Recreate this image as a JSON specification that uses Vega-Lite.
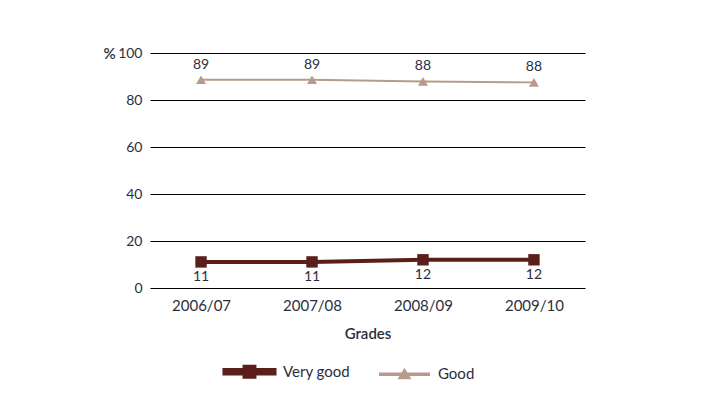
{
  "$schema": "https://vega.github.io/schema/vega-lite/v6.json",
  "width": 435,
  "height": 235,
  "autosize": {"type": "none"},
  "padding": {"left": 150, "top": 53, "right": 116, "bottom": 113},
  "background": "white",
  "config": {
    "font": "Lato",
    "view": {"stroke": null},
    "text": {"font": "Lato"}
  },
  "data": {
    "values": [
      {"year": "2006/07", "series": "Very good", "value": 11.1},
      {"year": "2007/08", "series": "Very good", "value": 11.1},
      {"year": "2008/09", "series": "Very good", "value": 12.0},
      {"year": "2009/10", "series": "Very good", "value": 12.0},
      {"year": "2006/07", "series": "Good", "value": 88.6},
      {"year": "2007/08", "series": "Good", "value": 88.6},
      {"year": "2008/09", "series": "Good", "value": 87.9},
      {"year": "2009/10", "series": "Good", "value": 87.5}
    ]
  },
  "encoding": {
    "x": {
      "field": "year",
      "type": "ordinal",
      "sort": null,
      "scale": {"type": "point", "padding": 0.46},
      "axis": {
        "domain": false,
        "ticks": false,
        "grid": false,
        "labelAngle": 0,
        "labelPadding": 10,
        "labelFontSize": 15,
        "labelColor": "#2b2f3d",
        "title": "Grades",
        "titleFontSize": 15,
        "titleFontWeight": 600,
        "titleColor": "#2b2f3d",
        "titlePadding": 13
      }
    },
    "y": {
      "field": "value",
      "type": "quantitative",
      "scale": {"domain": [0, 100]},
      "axis": {
        "values": [0, 20, 40, 60, 80, 100],
        "domain": false,
        "ticks": false,
        "grid": true,
        "gridColor": "#000000",
        "gridWidth": 1,
        "gridOpacity": 1,
        "labelPadding": 8,
        "labelFontSize": 14,
        "labelColor": "#2b2f3d",
        "title": "%",
        "titleAngle": 0,
        "titleX": -47,
        "titleY": 0,
        "titleAlign": "left",
        "titleBaseline": "middle",
        "titleFontSize": 15,
        "titleFontWeight": 600,
        "titleColor": "#2b2f3d"
      }
    }
  },
  "layer": [
    {
      "transform": [{"filter": "false"}],
      "mark": {"type": "point", "filled": true, "opacity": 1},
      "encoding": {
        "color": {
          "field": "series",
          "type": "nominal",
          "scale": {"domain": ["Very good", "Good"], "range": ["#5a1f1b", "#b89a8c"]},
          "legend": {
            "orient": "none",
            "legendX": 92,
            "legendY": 311,
            "direction": "horizontal",
            "title": null,
            "padding": 0,
            "labelFont": "Lato",
            "labelFontSize": 15,
            "labelColor": "#2b2f3d",
            "symbolSize": 121,
            "symbolStrokeWidth": 0,
            "symbolOpacity": 1,
            "labelOffset": 26,
            "columnPadding": 25
          }
        },
        "shape": {
          "field": "series",
          "type": "nominal",
          "scale": {
            "domain": ["Very good", "Good"],
            "range": [
              "M-4.55,-0.3H4.55V0.3H-4.55Z M-0.9,-0.9H0.9V0.9H-0.9Z",
              "M-4.45,-0.14H4.45V0.14H-4.45Z M0,-0.8L0.95,0.75H-0.95Z"
            ]
          },
          "legend": {
            "orient": "none",
            "legendX": 92,
            "legendY": 311,
            "direction": "horizontal",
            "title": null,
            "padding": 0,
            "labelFont": "Lato",
            "labelFontSize": 15,
            "labelColor": "#2b2f3d",
            "symbolSize": 121,
            "symbolStrokeWidth": 0,
            "symbolOpacity": 1,
            "labelOffset": 26,
            "columnPadding": 25
          }
        }
      }
    },
    {
      "mark": {"type": "line"},
      "encoding": {
        "color": {"field": "series", "type": "nominal"},
        "strokeWidth": {
          "field": "series",
          "type": "nominal",
          "scale": {"domain": ["Very good", "Good"], "range": [4, 2]},
          "legend": null
        }
      }
    },
    {
      "transform": [{"filter": "datum.series === 'Very good'"}],
      "mark": {"type": "point", "filled": true, "opacity": 1, "shape": "square", "size": 130},
      "encoding": {"color": {"field": "series", "type": "nominal"}}
    },
    {
      "transform": [{"filter": "datum.series === 'Good'"}],
      "mark": {"type": "point", "filled": true, "opacity": 1, "shape": "triangle-up", "size": 100},
      "encoding": {"color": {"field": "series", "type": "nominal"}}
    },
    {
      "transform": [{"filter": "datum.series === 'Good'"}],
      "mark": {"type": "text", "dy": -15, "fontSize": 14, "color": "#2b2f3d", "baseline": "middle"},
      "encoding": {"text": {"field": "value", "type": "quantitative", "format": ".0f"}}
    },
    {
      "transform": [{"filter": "datum.series === 'Very good'"}],
      "mark": {"type": "text", "dy": 15, "fontSize": 14, "color": "#2b2f3d", "baseline": "middle"},
      "encoding": {"text": {"field": "value", "type": "quantitative", "format": ".0f"}}
    }
  ]
}
